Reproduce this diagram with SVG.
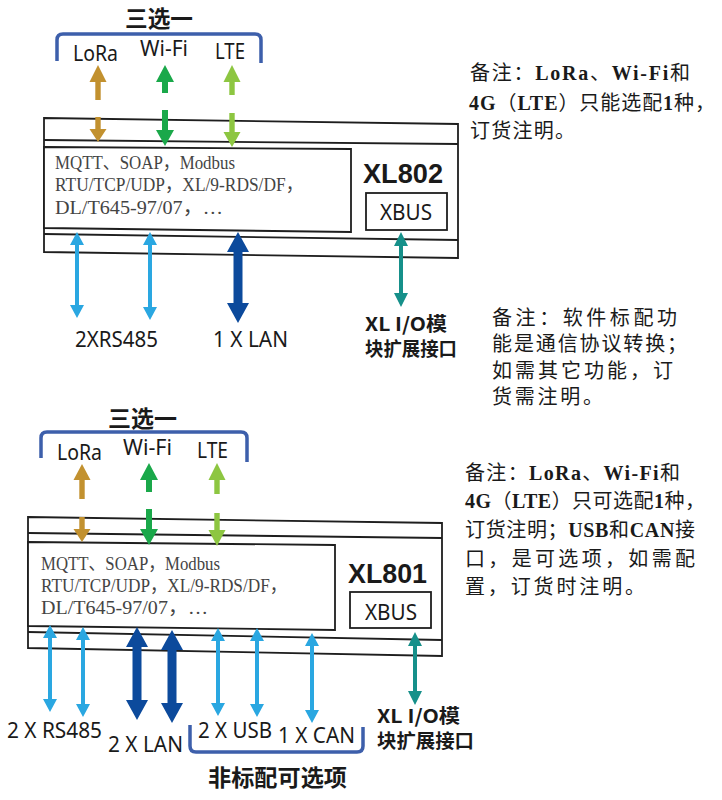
<svg xmlns="http://www.w3.org/2000/svg" width="722" height="800" viewBox="0 0 722 800">
<style>
.bg{fill:#ffffff}
.box{fill:#ffffff;stroke:#1e1e1e;stroke-width:1.8}
.ln{stroke:#1e1e1e;stroke-width:1.8;fill:none}
.br{fill:none;stroke:#3d5fab;stroke-width:3.5;stroke-linecap:butt}
.lbl{font-family:"Noto Sans","Noto Sans CJK SC",sans-serif;font-size:21px;fill:#1a1a1a}
.ttl{font-family:"Noto Sans CJK SC",sans-serif;font-weight:bold;font-size:23px;fill:#1a1a1a}
.proto{font-family:"Liberation Serif","Noto Sans CJK SC",serif;font-size:19px;fill:#444}
.note{font-family:"Liberation Serif","Noto Sans CJK SC",serif;font-size:20px;fill:#1a1a1a}
.lat{font-weight:bold}
.model{font-family:"Liberation Sans",sans-serif;font-weight:bold;font-size:27px;fill:#1a1a1a}
.xbus{font-family:"Noto Sans",sans-serif;font-size:21px;fill:#1a1a1a}
.io{font-family:"Noto Sans CJK SC",sans-serif;font-weight:bold;font-size:19px;fill:#1a1a1a}
.lora{fill:#c2912f}
.wifi{fill:#1aa84a}
.lte{fill:#8dc641}
.rs{fill:#2aa7e1}
.lan{fill:#0c4a9c}
.teal{fill:#16908a}
</style>
<rect class="bg" x="0" y="0" width="722" height="800"/>

<!-- ===== Top diagram XL802 ===== -->
<g id="xl802">
  <polygon class="box" points="44,118 458,124 458,258 44,252"/>
  <line class="ln" x1="44" y1="140" x2="458" y2="144"/>
  <polygon class="box" points="44,147 351,149 351,232 44,228"/>
  <line class="ln" x1="44" y1="234" x2="458" y2="240"/>
  <text class="proto" x="55" y="169" textLength="180" lengthAdjust="spacingAndGlyphs">MQTT、SOAP，Modbus</text>
  <text class="proto" x="55" y="191" textLength="248" lengthAdjust="spacingAndGlyphs">RTU/TCP/UDP，XL/9-RDS/DF，</text>
  <text class="proto" x="55" y="214" textLength="168" lengthAdjust="spacingAndGlyphs">DL/T645-97/07，…</text>
  <text class="model" x="363" y="183" textLength="80" lengthAdjust="spacingAndGlyphs">XL802</text>
  <g id="xl802-xbus">
    <rect class="box" x="366" y="193" width="81" height="37"/>
    <text class="xbus" x="380" y="220" textLength="52" lengthAdjust="spacingAndGlyphs">XBUS</text>
  </g>
</g>
<g id="top-choice">
  <text class="ttl" x="125" y="27" textLength="68" lengthAdjust="spacingAndGlyphs">三选一</text>
  <path class="br" d="M57,61 L57,40 Q57,34 63,34 L255,34 Q261,34 261,40 L261,63"/>
</g>
<g id="top-lora"><text class="lbl" x="73" y="61" textLength="45" lengthAdjust="spacingAndGlyphs">LoRa</text></g>
<g id="top-wifi"><text class="lbl" x="140" y="56" textLength="48" lengthAdjust="spacingAndGlyphs">Wi-Fi</text></g>
<g id="top-lte"><text class="lbl" x="215" y="59" textLength="30" lengthAdjust="spacingAndGlyphs">LTE</text></g>
<g id="top-rs485"><text class="lbl" x="75" y="347" textLength="83" lengthAdjust="spacingAndGlyphs">2XRS485</text></g>
<g id="top-lan"><text class="lbl" x="213" y="347" textLength="75" lengthAdjust="spacingAndGlyphs">1 X LAN</text></g>
<g id="top-io">
  <text class="io" x="365" y="331" textLength="82" lengthAdjust="spacingAndGlyphs">XL I/O模</text>
  <text class="io" x="365" y="356" textLength="92" lengthAdjust="spacingAndGlyphs">块扩展接口</text>
</g>
<g id="note1">
  <text class="note" x="470" y="80" textLength="220" lengthAdjust="spacing">备注：<tspan class="lat">LoRa</tspan>、<tspan class="lat">Wi-Fi</tspan>和</text>
  <text class="note" x="469" y="110" textLength="246" lengthAdjust="spacing"><tspan class="lat">4G</tspan>（<tspan class="lat">LTE</tspan>）只能选配<tspan class="lat">1</tspan>种，</text>
  <text class="note" x="470" y="138" textLength="105" lengthAdjust="spacing">订货注明。</text>
</g>
<g id="note2">
  <text class="note" x="492" y="325" textLength="185" lengthAdjust="spacing">备注：软件标配功</text>
  <text class="note" x="492" y="351" textLength="195" lengthAdjust="spacing">能是通信协议转换；</text>
  <text class="note" x="492" y="378" textLength="181" lengthAdjust="spacing">如需其它功能，订</text>
  <text class="note" x="492" y="404" textLength="111" lengthAdjust="spacing">货需注明。</text>
</g>

<!-- ===== Bottom diagram XL801 ===== -->
<g id="xl801">
  <polygon class="box" points="28,517 442,523 442,656 28,648"/>
  <line class="ln" x1="28" y1="533" x2="442" y2="538"/>
  <polygon class="box" points="28,542 335,545 335,630 28,626"/>
  <line class="ln" x1="28" y1="632" x2="442" y2="640"/>
  <text class="proto" x="41" y="570" textLength="179" lengthAdjust="spacingAndGlyphs">MQTT、SOAP，Modbus</text>
  <text class="proto" x="41" y="592" textLength="246" lengthAdjust="spacingAndGlyphs">RTU/TCP/UDP，XL/9-RDS/DF，</text>
  <text class="proto" x="41" y="614" textLength="167" lengthAdjust="spacingAndGlyphs">DL/T645-97/07，…</text>
  <text class="model" x="348" y="583" textLength="79" lengthAdjust="spacingAndGlyphs">XL801</text>
  <g id="xl801-xbus">
    <rect class="box" x="350" y="592" width="81" height="36"/>
    <text class="xbus" x="365" y="620" textLength="52" lengthAdjust="spacingAndGlyphs">XBUS</text>
  </g>
</g>
<g id="bot-choice">
  <text class="ttl" x="108" y="427" textLength="69" lengthAdjust="spacingAndGlyphs">三选一</text>
  <path class="br" d="M41,458 L41,438 Q41,432 47,432 L241,432 Q247,432 247,438 L247,462"/>
</g>
<g id="bot-lora"><text class="lbl" x="57" y="460" textLength="45" lengthAdjust="spacingAndGlyphs">LoRa</text></g>
<g id="bot-wifi"><text class="lbl" x="123" y="455" textLength="49" lengthAdjust="spacingAndGlyphs">Wi-Fi</text></g>
<g id="bot-lte"><text class="lbl" x="197" y="458" textLength="31" lengthAdjust="spacingAndGlyphs">LTE</text></g>
<g id="bot-rs485"><text class="lbl" x="7" y="738" textLength="95" lengthAdjust="spacingAndGlyphs">2 X RS485</text></g>
<g id="bot-lan"><text class="lbl" x="108" y="752" textLength="75" lengthAdjust="spacingAndGlyphs">2 X LAN</text></g>
<g id="bot-usb"><text class="lbl" x="198" y="738" textLength="74" lengthAdjust="spacingAndGlyphs">2 X USB</text></g>
<g id="bot-can"><text class="lbl" x="278" y="743" textLength="77" lengthAdjust="spacingAndGlyphs">1 X CAN</text></g>
<g id="bot-optional">
  <path class="br" d="M190,725 L190,746 Q190,752 196,752 L357,752 Q363,752 363,746 L363,727"/>
  <text class="ttl" x="208" y="786" textLength="139" lengthAdjust="spacingAndGlyphs">非标配可选项</text>
</g>
<g id="bot-io">
  <text class="io" x="377" y="723" textLength="83" lengthAdjust="spacingAndGlyphs">XL I/O模</text>
  <text class="io" x="377" y="748" textLength="97" lengthAdjust="spacingAndGlyphs">块扩展接口</text>
</g>
<g id="note3">
  <text class="note" x="465" y="480" textLength="215" lengthAdjust="spacing">备注：<tspan class="lat">LoRa</tspan>、<tspan class="lat">Wi-Fi</tspan>和</text>
  <text class="note" x="465" y="508" textLength="240" lengthAdjust="spacing"><tspan class="lat">4G</tspan>（<tspan class="lat">LTE</tspan>）只可选配<tspan class="lat">1</tspan>种，</text>
  <text class="note" x="465" y="537" textLength="230" lengthAdjust="spacing">订货注明；<tspan class="lat">USB</tspan>和<tspan class="lat">CAN</tspan>接</text>
  <text class="note" x="465" y="566" textLength="230" lengthAdjust="spacing">口，是可选项，如需配</text>
  <text class="note" x="465" y="594" textLength="180" lengthAdjust="spacing">置，订货时注明。</text>
</g>

<!-- ===== Connectors ===== -->
<g id="connectors">
  <!-- top wireless -->
  <path class="lora" d="M98,65 L106.5,82 L100.7,82 L100.7,100 L95.3,100 L95.3,82 L89.5,82 Z"/>
  <path class="lora" d="M95.3,117 L100.7,117 L100.7,129 L106.5,129 L98,142 L89.5,129 L95.3,129 Z"/>
  <path class="wifi" d="M165,65 L174,82 L168,82 L168,93 L162,93 L162,82 L156,82 Z"/>
  <path class="wifi" d="M162,110 L168,110 L168,130 L174,130 L165,146 L156,130 L162,130 Z"/>
  <path class="lte" d="M232,65 L240.5,82 L234.7,82 L234.7,95 L229.3,95 L229.3,82 L223.5,82 Z"/>
  <path class="lte" d="M229.3,113 L234.7,113 L234.7,132 L240.5,132 L232,147 L223.5,132 L229.3,132 Z"/>
  <!-- top wired -->
  <path class="rs" d="M77,232 L84,245 L79,245 L79,305 L84,305 L77,318 L70,305 L75,305 L75,245 L70,245 Z"/>
  <path class="rs" d="M150,232 L157,245 L152,245 L152,307 L157,307 L150,320 L143,307 L148,307 L148,245 L143,245 Z"/>
  <path class="lan" d="M238,232 L249,252 L242.5,252 L242.5,303 L249,303 L238,323 L227,303 L233.5,303 L233.5,252 L227,252 Z"/>
  <path class="teal" d="M401,232 L408,246 L403,246 L403,293 L408,293 L401,307 L394,293 L399,293 L399,246 L394,246 Z"/>
  <!-- bottom wireless -->
  <path class="lora" d="M82,464 L90.5,480 L84.7,480 L84.7,499 L79.3,499 L79.3,480 L73.5,480 Z"/>
  <path class="lora" d="M79.3,517 L84.7,517 L84.7,529 L90.5,529 L82,542 L73.5,529 L79.3,529 Z"/>
  <path class="wifi" d="M149,463 L158,480 L152,480 L152,492 L146,492 L146,480 L140,480 Z"/>
  <path class="wifi" d="M146,509 L152,509 L152,529 L158,529 L149,545 L140,529 L146,529 Z"/>
  <path class="lte" d="M217,463 L225.5,480 L219.7,480 L219.7,494 L214.3,494 L214.3,480 L208.5,480 Z"/>
  <path class="lte" d="M214.3,513 L219.7,513 L219.7,530 L225.5,530 L217,546 L208.5,530 L214.3,530 Z"/>
  <!-- bottom wired -->
  <path class="rs" d="M50,625 L57,638 L52,638 L52,699 L57,699 L50,712 L43,699 L48,699 L48,638 L43,638 Z"/>
  <path class="rs" d="M83,627 L90,640 L85,640 L85,704 L90,704 L83,717 L76,704 L81,704 L81,640 L76,640 Z"/>
  <path class="lan" d="M137,627 L148,647 L141.5,647 L141.5,700 L148,700 L137,720 L126,700 L132.5,700 L132.5,647 L126,647 Z"/>
  <path class="lan" d="M172,630 L183,650 L176.5,650 L176.5,703 L183,703 L172,723 L161,703 L167.5,703 L167.5,650 L161,650 Z"/>
  <path class="rs" d="M218,628 L225,641 L220,641 L220,703 L225,703 L218,716 L211,703 L216,703 L216,641 L211,641 Z"/>
  <path class="rs" d="M257,628 L264,641 L259,641 L259,704 L264,704 L257,717 L250,704 L255,704 L255,641 L250,641 Z"/>
  <path class="rs" d="M312,633 L319,646 L314,646 L314,710 L319,710 L312,723 L305,710 L310,710 L310,646 L305,646 Z"/>
  <path class="teal" d="M415,632 L422,646 L417,646 L417,691 L422,691 L415,705 L408,691 L413,691 L413,646 L408,646 Z"/>
</g>
</svg>
